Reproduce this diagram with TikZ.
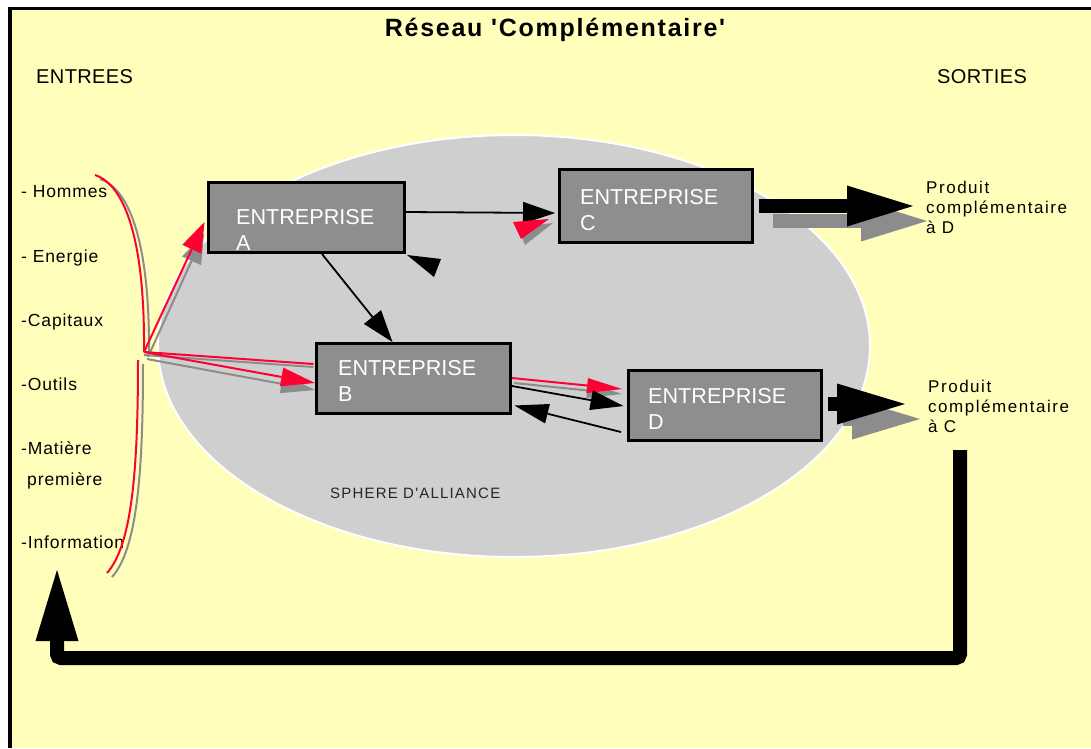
\documentclass[tikz,border=0pt]{standalone}
\usepackage{fontspec}
\setmainfont{Liberation Sans}[Ligatures=TeXOff]
\usetikzlibrary{arrows.meta,calc,shapes.geometric}

\definecolor{bgyellow}{HTML}{FFFFBB}
\definecolor{spheregray}{HTML}{CFCFCF}
\definecolor{boxgray}{HTML}{8E8E8E}
\definecolor{shadowgray}{HTML}{8C8C8C}
\definecolor{linkred}{HTML}{FF0033}

\tikzset{
  box/.style={draw=black, line width=3pt, fill=boxgray, inner sep=0pt},
  boxtext/.style={text=white, align=left, anchor=base west, inner sep=0pt,
    font=\fontsize{21.6}{26}\selectfont},
  itemlbl/.style={anchor=base west, inner sep=0pt,
    font=\fontsize{17.5}{20}\selectfont\addfontfeature{LetterSpace=5}},
  outlbl/.style={anchor=base west, inner sep=0pt, align=left,
    font=\fontsize{17}{20}\selectfont\addfontfeature{LetterSpace=9}},
  headlbl/.style={anchor=base west, inner sep=0pt,
    font=\fontsize{20}{22}\selectfont\addfontfeature{LetterSpace=2}},
  blk/.style={draw=black, line width=1.8pt, -{Triangle[length=32pt,width=22pt,line width=0pt]}},
  redl/.style={draw=linkred, line width=2pt},
  shdl/.style={draw=shadowgray, line width=2pt},
  fat/.style={line width=14pt},
}

\begin{document}
\begin{tikzpicture}[x=1pt,y=-1pt]
\useasboundingbox (0,0) rectangle (1091,748);
\fill[white] (0,0) rectangle (1091,748);
\fill[bgyellow] (10,8) rectangle (1091,748);
\draw[line width=3pt] (8,8) -- (1091,8);
\draw[line width=4pt] (10,6.5) -- (10,748);

% headings
\node[anchor=base, inner sep=0pt, font=\fontsize{25}{27}\selectfont\bfseries\addfontfeature{LetterSpace=7}]
  (title) at (555,36) {Réseau 'Complémentaire'};
\node[headlbl] (entrees) at (36,83) {ENTREES};
\node[headlbl] (sorties) at (937,83) {SORTIES};

% the alliance sphere
\node[ellipse, fill=spheregray, draw=white, line width=2pt, minimum width=712pt,
  minimum height=422pt, inner sep=0pt] (sphere) at (514,346) {};
\node[anchor=base west, inner sep=0pt, text=black!85,
  font=\fontsize{15}{17}\selectfont\addfontfeature{LetterSpace=8}]
  (sphlbl) at (330,498) {SPHERE D'ALLIANCE};

% inputs
\node[itemlbl] (i1) at (21,197) {- Hommes};
\node[itemlbl] (i2) at (21,262) {- Energie};
\node[itemlbl] (i3) at (21,326) {-Capitaux};
\node[itemlbl] (i4) at (21,390) {-Outils};
\node[itemlbl] (i5) at (21,454) {-Matière};
\node[itemlbl] (i6) at (27,485) {première};
\node[itemlbl] (i7) at (21,548) {-Information};

% firms
\node[box, minimum width=196pt, minimum height=70pt] (A) at (306.5,217.5) {};
\node[box, minimum width=193pt, minimum height=73pt] (C) at (656,206) {};
\node[box, minimum width=194pt, minimum height=70pt] (B) at (413.5,378.5) {};
\node[box, minimum width=193pt, minimum height=70pt] (D) at (725,405.5) {};
\node[boxtext] (tA) at (236,250) {ENTREPRISE\\A};
\node[boxtext] (tC) at (580,230) {ENTREPRISE\\C};
\node[boxtext] (tB) at (338,401) {ENTREPRISE\\B};
\node[boxtext] (tD) at (648,429) {ENTREPRISE\\D};

% outputs
\node[outlbl] (pD) at (926,233) {Produit\\complémentaire\\à D};
\node[outlbl] (pC) at (928,432) {Produit\\complémentaire\\à C};

% gathering brace of the inputs
\coordinate (fork) at (144,352);
\begin{scope}[transform canvas={xshift=5pt,yshift=-4pt}]
  \draw[shdl] (95,175) .. controls (125,185) and (145,240) .. (fork);
  \draw[shdl] (138,360) .. controls (138,470) and (132,545) .. (107,573);
\end{scope}
\draw[redl] (95,175) .. controls (125,185) and (145,240) .. (fork);
\draw[redl] (138,360) .. controls (138,470) and (132,545) .. (107,573);

% inputs flowing to A and B (shadows first)
\draw[shdl, -{Triangle[length=30pt,width=21pt,line width=0pt]}]
  ($(fork)+(4,5)$) -- ($(A.west)+(-3,16)$);
\draw[redl, -{Triangle[length=30pt,width=21pt,line width=0pt]}]
  (fork) -- ($(A.west)+(-2.5,4.5)$);
\begin{scope}[transform canvas={yshift=-3pt}]
  \draw[shdl] (fork) -- ($(B.west)+(-1.5,-14.5)$);
\end{scope}
\draw[redl] (fork) -- ($(B.west)+(-1.5,-14.5)$);
\begin{scope}[transform canvas={xshift=3pt,yshift=-7pt}]
  \draw[shdl, -{Triangle[length=34pt,width=19pt,line width=0pt]}]
    (fork) -- ($(B.west)+(-3,4.5)$);
\end{scope}
\draw[redl, -{Triangle[length=34pt,width=19pt,line width=0pt]}]
  (fork) -- ($(B.west)+(0,4.5)$);

% links between firms
\draw[blk] ($(A.east)+(0,-5.5)$) -- ($(C.west)+(-3,7)$);
\draw[blk] ($(A.south)+(15.5,0)$) -- ($(B.north)+(-21,0)$);
\begin{scope}[transform canvas={xshift=2pt,yshift=-5pt}]
  \draw[shdl, -{Triangle[length=35pt,width=15pt,line width=0pt]}]
    ($(B.east)+(0,-0.5)$) -- ($(D.west)+(-7,-16.5)$);
\end{scope}
\draw[redl, -{Triangle[length=35pt,width=15pt,line width=0pt]}]
  ($(B.east)+(0,-0.5)$) -- ($(D.west)+(-5,-16.5)$);
\draw[blk, -{Triangle[length=33pt,width=20pt,line width=0pt]}]
  ($(B.east)+(0,7.5)$) -- ($(D.west)+(-3.5,0.5)$);
\draw[blk, -{Triangle[length=34pt,width=20pt,line width=0pt]}]
  ($(D.west)+(-6,26.5)$) -- ($(B.east)+(2.5,27)$);

% loose arrow tips
\fill[shadowgray] (518,227) -- (553,223) -- (525,245) -- cycle;
\fill[linkred] (513,222) -- (549,219) -- (521,239) -- cycle;
\fill[black] (407,255) -- (441,259) -- (434,277) -- cycle;

% outputs of C and D
\coordinate (endC) at (913,206);
\coordinate (endD) at (905,404);
\begin{scope}[transform canvas={xshift=14pt,yshift=-15pt}]
  \draw[shadowgray, fat, -{Triangle[length=66pt,width=41pt,line width=0pt]}]
    ($(C.east)+(4.5,0)$) -- (endC);
\end{scope}
\draw[black, fat, -{Triangle[length=66pt,width=41pt,line width=0pt]}]
  ($(C.east)+(4.5,0)$) -- (endC);
\begin{scope}[transform canvas={xshift=15pt,yshift=-15pt}]
  \draw[shadowgray, fat, -{Triangle[length=68pt,width=41pt,line width=0pt]}]
    ($(D.east)+(4.5,-1.5)$) -- (endD);
\end{scope}
\draw[black, fat, -{Triangle[length=68pt,width=41pt,line width=0pt]}]
  ($(D.east)+(4.5,-1.5)$) -- (endD);

% feedback loop back to the inputs
\coordinate (fbStart) at (960,450);
\coordinate (fbEnd) at (57,570);
\draw[black, fat, rounded corners=4pt, -{Triangle[length=71pt,width=43pt,line width=0pt]}]
  (fbStart) -- (960,658) -- (57,658) -- (fbEnd);
\end{tikzpicture}
\end{document}
